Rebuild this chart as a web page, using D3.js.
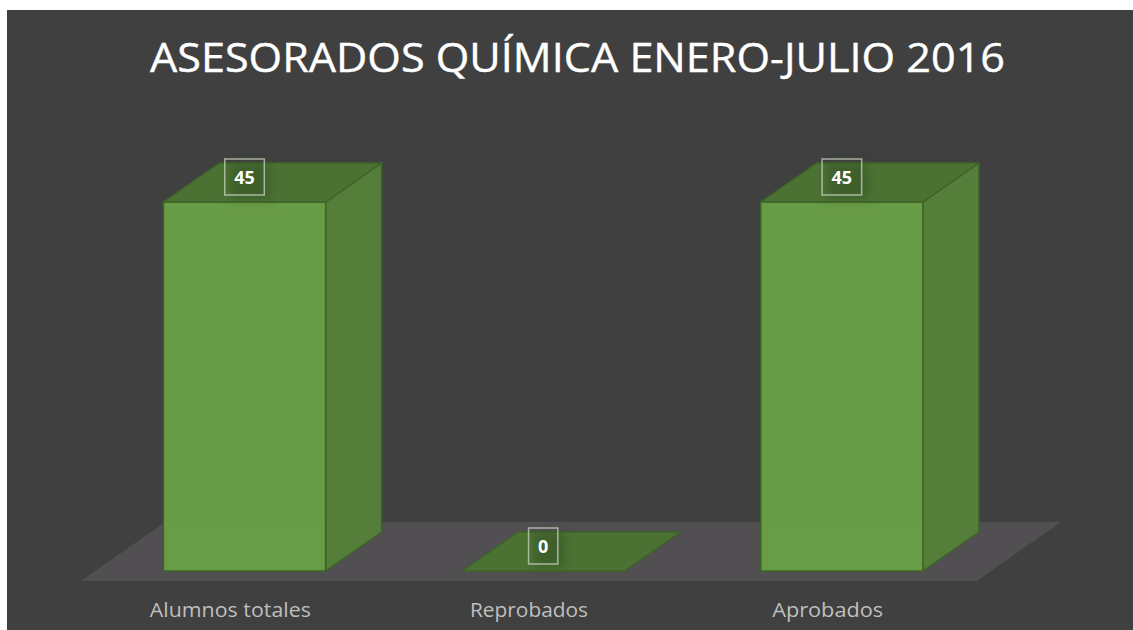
<!DOCTYPE html>
<html>
<head>
<meta charset="utf-8">
<script src="https://cdn.jsdelivr.net/npm/d3@7"></script>
<style>
  html, body { margin: 0; padding: 0; background: #ffffff; }
  svg { display: block; }
</style>
</head>
<body>
<svg id="chart" width="1133" height="630"></svg>
<script>
const title = "ASESORADOS QUÍMICA ENERO-JULIO 2016";
const categories = ["Alumnos totales", "Reprobados", "Aprobados"];
const values = [45, 0, 45];
const yDomain = [0, 50];

const W = 1133, H = 630;
const svg = d3.select("#chart");

// layout
const bg = {x: 7, y: 10};
const floorFrontY = 581;
const floorX = [81, 977];
const floorDepth = {dx: 84, dy: -59};
const barFrontShift = {dx: 14.2, dy: -10};
const barDepth = {dx: 56, dy: -39};
const baseY = floorFrontY + barFrontShift.dy; // 571

const defs = svg.append("defs");
const f = defs.append("filter").attr("id", "glow").attr("x", "-50%").attr("y", "-50%").attr("width", "200%").attr("height", "200%");
f.append("feGaussianBlur").attr("stdDeviation", 5);

svg.append("rect").attr("x", bg.x).attr("y", bg.y).attr("width", W - bg.x).attr("height", H - bg.y).attr("fill", "#404040");

const x = d3.scaleBand().domain(categories).range(floorX).paddingInner(0.457).paddingOuter(0.2285);
const y = d3.scaleLinear().domain(yDomain).range([baseY, baseY - 410]);

// floor
svg.append("path")
  .attr("d", d3.line()([
    [floorX[0], floorFrontY], [floorX[1], floorFrontY],
    [floorX[1] + floorDepth.dx, floorFrontY + floorDepth.dy],
    [floorX[0] + floorDepth.dx, floorFrontY + floorDepth.dy]
  ]) + "Z")
  .attr("fill", "#514f51");

const stroke = "#3d6526";
const bars = svg.append("g").selectAll("g").data(categories).join("g");

bars.each(function(c, i) {
  const g = d3.select(this);
  const x0 = x(c) + barFrontShift.dx, x1 = x0 + x.bandwidth();
  const yt = y(values[i]), yb = y(0);
  const dx = barDepth.dx, dy = barDepth.dy;
  if (yb - yt > 0.5) {
    g.append("path").attr("d", d3.line()([[x1, yt], [x1 + dx, yt + dy], [x1 + dx, yb + dy], [x1, yb]]) + "Z")
      .attr("fill", "#55803a").attr("fill-opacity", 0.97).attr("stroke", stroke).attr("stroke-width", 1.5).attr("stroke-linejoin", "round");
    g.append("rect").attr("x", x0).attr("y", yt).attr("width", x1 - x0).attr("height", yb - yt)
      .attr("fill", "#6aa046").attr("fill-opacity", 0.95).attr("stroke", stroke).attr("stroke-width", 1.5);
  }
  g.append("path").attr("d", d3.line()([[x0, yt], [x1, yt], [x1 + dx, yt + dy], [x0 + dx, yt + dy]]) + "Z")
    .attr("fill", "#4b7233").attr("stroke", stroke).attr("stroke-width", 1.5).attr("stroke-linejoin", "round");
});

// data labels
const labels = svg.append("g").selectAll("g").data(categories).join("g");
labels.each(function(c, i) {
  const g = d3.select(this);
  const cx = x(c) + barFrontShift.dx + x.bandwidth() / 2;
  const cy = y(values[i]) - 25;
  const t = g.append("text").attr("x", cx).attr("y", cy + 6.5)
    .attr("text-anchor", "middle").attr("font-family", "Open Sans, sans-serif")
    .attr("font-weight", 700).attr("font-size", 18).attr("fill", "#ffffff").text(values[i]);
  const w = t.node().getComputedTextLength() + 19;
  g.insert("rect", "text").attr("x", cx - w / 2 + 6).attr("y", cy - 14).attr("width", w).attr("height", 36)
    .attr("fill", "#2f4a20").attr("fill-opacity", 0.5).attr("filter", "url(#glow)");
  g.insert("rect", "text").attr("x", cx - w / 2).attr("y", cy - 18).attr("width", w).attr("height", 36)
    .attr("fill", "none").attr("stroke", "#c9d3c2").attr("stroke-opacity", 0.75).attr("stroke-width", 1.5);
});

// category labels
const catWidths = [161, 118, 111];
svg.append("g").selectAll("text").data(categories).join("text")
  .attr("x", c => x(c) + x.bandwidth() / 2)
  .attr("y", 617)
  .attr("text-anchor", "middle")
  .attr("font-family", "Open Sans, sans-serif")
  .attr("font-size", 19.5)
  .attr("fill", "#bfbfbf")
  .attr("textLength", (c, i) => catWidths[i])
  .attr("lengthAdjust", "spacingAndGlyphs")
  .text(c => c);

// title
svg.append("text")
  .attr("x", 577.5).attr("y", 72)
  .attr("text-anchor", "middle")
  .attr("font-family", "Open Sans, sans-serif")
  .attr("font-size", 40)
  .attr("fill", "#ffffff")
  .attr("stroke", "#ffffff")
  .attr("stroke-width", 0.4)
  .attr("textLength", 855)
  .attr("lengthAdjust", "spacingAndGlyphs")
  .text(title);
</script>
</body>
</html>
